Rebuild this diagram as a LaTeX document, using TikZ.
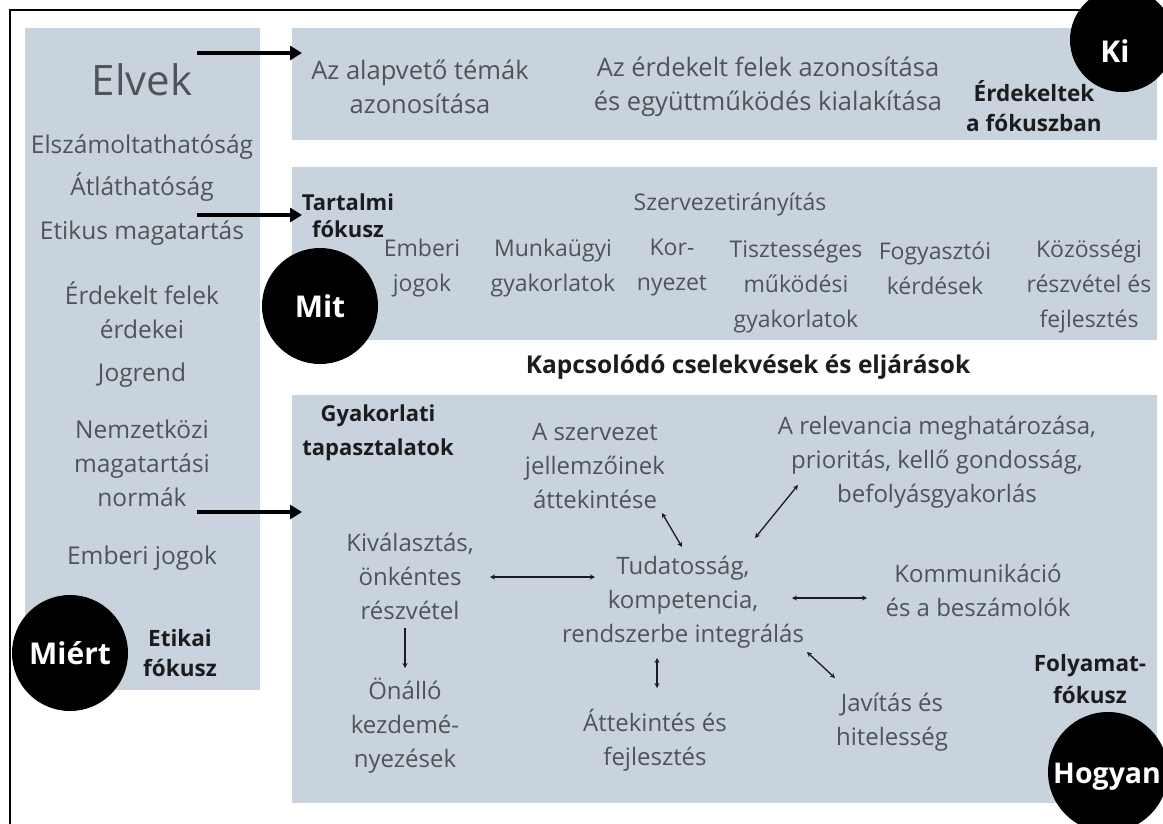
\documentclass[tikz,border=0pt]{standalone}
\usepackage{fontspec}
\setmainfont{Open Sans}
\usetikzlibrary{arrows.meta}
\definecolor{boxfill}{RGB}{201,211,221}
\definecolor{txt}{RGB}{80,84,88}
\definecolor{dark}{RGB}{28,28,30}
\begin{document}
\begin{tikzpicture}[x=1pt,y=-1pt,
  panel/.style={fill=boxfill, draw=none},
  lbl/.style={text=txt, font=\fontsize{24.5}{34}\selectfont, align=center, inner sep=0pt},
  toplbl/.style={lbl, font=\fontsize{25.5}{34}\selectfont},
  midlbl/.style={lbl, font=\fontsize{23}{35}\selectfont},
  botlbl/.style={lbl, font=\fontsize{24}{34}\selectfont},
  blbl/.style={text=dark, font=\fontsize{22.5}{30}\selectfont\bfseries, align=center, inner sep=0pt},
  disc/.style={circle, fill=black, text=white, font=\fontsize{30}{32}\selectfont\bfseries, inner sep=0pt},
  disctext/.style={text=white, font=\fontsize{30}{32}\selectfont\bfseries, inner sep=0pt},
  bigarrow/.style={-{Triangle[length=12pt,width=14pt]}, line width=3.8pt, draw=black},
  link/.style={{Stealth[length=5pt,width=5pt]}-{Stealth[length=5pt,width=5pt]}, line width=1.3pt, draw=dark},
  onelink/.style={-{Stealth[length=5pt,width=5pt]}, line width=1.3pt, draw=dark},
]
\useasboundingbox (0,0) rectangle (1163,823);
\clip (0,0) rectangle (1163,823);
\fill[white] (0,0) rectangle (1163,823);
% frame
\draw[line width=1.2pt] (10,840) -- (10,10) -- (1180,10);

% panels
\fill[panel] (25,28) rectangle (260,690);
\fill[panel] (292,28) rectangle (1157,140);
\fill[panel] (292,167) rectangle (1157,340);
\fill[panel] (292,395) rectangle (1157,803);

% left panel texts
\node[lbl, font=\fontsize{42}{44}\selectfont] (elvek) at (142,80) {Elvek};
\node[lbl] (elsz) at (142,147) {Elszámoltathatóság};
\node[lbl] (atl) at (142,187) {Átláthatóság};
\node[lbl] (etik) at (142,233) {Etikus magatartás};
\node[lbl] (erd) at (142,310.5) {Érdekelt felek\\érdekei};
\node[lbl] (jog) at (142,375) {Jogrend};
\node[lbl] (nemz) at (142,463) {Nemzetközi\\magatartási\\normák};
\node[lbl] (embj) at (142,558) {Emberi jogok};
\node[blbl] (etf) at (180,653) {Etikai\\fókusz};
\node[disc, minimum size=116pt] (miert) at (70,653) {Miért};

% top panel
\node[toplbl] (alap) at (420,86.5) {Az alapvető témák\\azonosítása};
\node[toplbl] (erdf) at (768,86.5) {Az érdekelt felek azonosítása\\és együttműködés kialakítása};
\node[blbl] (erdk) at (1034,106) {Érdekeltek\\a fókuszban};
\node[disc, minimum size=104pt] (ki) at (1122,40) {};
\node[disctext] (kit) at (1115,51) {Ki};

% middle panel
\node[blbl, font=\fontsize{22}{27}\selectfont\bfseries] (tart) at (348,216) {Tartalmi\\fókusz};
\node[midlbl] (szerv) at (730,204) {Szervezetirányítás};
\node[midlbl] (c1) at (422,268) {Emberi\\jogok};
\node[midlbl] (c2) at (553,268) {Munkaügyi\\gyakorlatok};
\node[midlbl] (c3) at (672,268) {Kor-\\nyezet};
\node[midlbl] (c4) at (796,286) {Tisztességes\\működési\\gyakorlatok};
\node[midlbl] (c5) at (935,268) {Fogyasztói\\kérdések};
\node[midlbl] (c6) at (1089,286) {Közösségi\\részvétel és\\fejlesztés};
\node[disc, minimum size=116pt] (mit) at (320,306) {Mit};

\node[blbl, font=\fontsize{24.5}{28}\selectfont\bfseries] (kapcs) at (748,367) {Kapcsolódó cselekvések és eljárások};

% bottom panel
\node[blbl, font=\fontsize{22}{34}\selectfont\bfseries] (gyak) at (378,433) {Gyakorlati\\tapasztalatok};
\node[botlbl] (szj) at (595,466) {A szervezet\\jellemzőinek\\áttekintése};
\node[botlbl] (rel) at (937,462) {A relevancia meghatározása,\\prioritás, kellő gondosság,\\befolyásgyakorlás};
\node[botlbl] (kiv) at (410,576) {Kiválasztás,\\önkéntes\\részvétel};
\node[botlbl] (tud) at (683,602) {Tudatosság,\\kompetencia,\\rendszerbe integrálás};
\node[botlbl] (komm) at (978,590) {Kommunikáció\\és a beszámolók};
\node[botlbl] (onal) at (405,726) {Önálló\\kezdemé-\\nyezések};
\node[botlbl] (att) at (655,740) {Áttekintés és\\fejlesztés};
\node[botlbl] (jav) at (892,722) {Javítás és\\hitelesség};
\node[blbl, font=\fontsize{22.5}{32}\selectfont\bfseries] (foly) at (1090,679) {Folyamat-\\fókusz};
\node[disc, minimum size=120pt] (hogy) at (1108,772) {};
\node[disctext, font=\fontsize{28.5}{32}\selectfont\bfseries, anchor=west] (hogyt) at (1053,777) {Hogyan};

% big arrows
\coordinate (a1s) at (197,53);  \coordinate (a1e) at (302,53);
\coordinate (a2s) at (197,215); \coordinate (a2e) at (302,215);
\coordinate (a3s) at (197,512); \coordinate (a3e) at (302,512);
\draw[bigarrow] (a1s) -- (a1e);
\draw[bigarrow] (a2s) -- (a2e);
\draw[bigarrow] (a3s) -- (a3e);

% links
\coordinate (l1a) at (662,513); \coordinate (l1b) at (682,547);
\coordinate (l2a) at (755,538); \coordinate (l2b) at (798,485);
\coordinate (l3a) at (490,577); \coordinate (l3b) at (595,577);
\coordinate (l4a) at (792,598); \coordinate (l4b) at (867,598);
\coordinate (l5a) at (807,652); \coordinate (l5b) at (835,678);
\coordinate (l6a) at (657,658); \coordinate (l6b) at (657,688);
\coordinate (l7a) at (405,628); \coordinate (l7b) at (405,668);
\draw[link] (l1a) -- (l1b);
\draw[link] (l2a) -- (l2b);
\draw[link] (l3a) -- (l3b);
\draw[link] (l4a) -- (l4b);
\draw[link] (l5a) -- (l5b);
\draw[link] (l6a) -- (l6b);
\draw[onelink] (l7a) -- (l7b);
\end{tikzpicture}
\end{document}
